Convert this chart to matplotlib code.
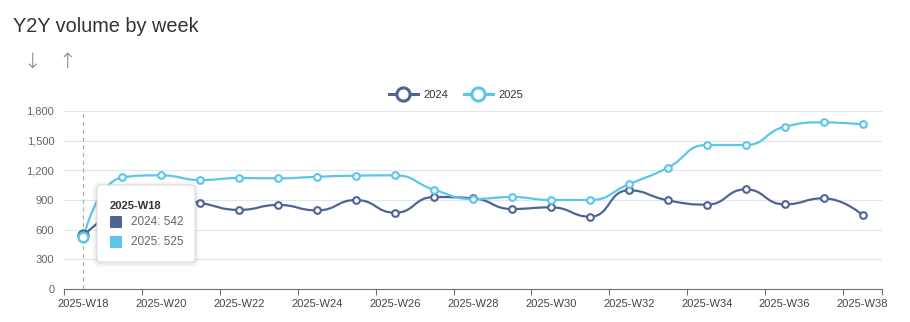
import numpy as np
import matplotlib
matplotlib.use("Agg")
import matplotlib.pyplot as plt
from matplotlib.path import Path
from matplotlib.patches import PathPatch, FancyBboxPatch
from matplotlib.lines import Line2D
from matplotlib.ticker import FuncFormatter

plt.rcParams["font.family"] = ["Liberation Sans", "DejaVu Sans"]

weeks = ["2025-W18", "2025-W19", "2025-W20", "2025-W21", "2025-W22", "2025-W23", "2025-W24",
         "2025-W25", "2025-W26", "2025-W27", "2025-W28", "2025-W29", "2025-W30", "2025-W31",
         "2025-W32", "2025-W33", "2025-W34", "2025-W35", "2025-W36", "2025-W37", "2025-W38"]
vol_2024 = [542, 830, 930, 870, 800, 850, 795, 900, 771, 930, 917, 809, 826, 731,
            998, 897, 853, 1008, 856, 917, 748]
vol_2025 = [525, 1129, 1149, 1102, 1122, 1119, 1135, 1146, 1149, 1004, 910, 930, 900, 900,
            1060, 1226, 1456, 1456, 1641, 1685, 1665]
series_names = ["2024", "2025"]
colors = ["#4e6593", "#5bc6ea"]
hover = 0  # week under the tooltip

W, H = 910, 322
PX_X = 38.9           # px per week
PX_Y = 178 / 1800     # px per unit


def clamp(v, a, b):
    return min(max(v, min(a, b)), max(a, b))


def smooth_path(xs, ys, smooth=0.5):
    # echarts-style bezier smoothing with control points kept in range
    pts = np.column_stack([np.asarray(xs, float) * PX_X, np.asarray(ys, float) * PX_Y])
    n = len(pts)
    verts = [pts[0]]
    codes = [Path.MOVETO]
    cp_out = pts[0].copy()
    for i in range(1, n):
        p, prev = pts[i], pts[i - 1]
        if i < n - 1:
            nxt = pts[i + 1]
            v = nxt - prev
            l0 = np.hypot(*(p - prev))
            l1 = np.hypot(*(nxt - p))
            r = l1 / (l0 + l1)
            nc = p + v * smooth * r
            nc = np.array([clamp(nc[0], nxt[0], p[0]), clamp(nc[1], nxt[1], p[1])])
            v = nc - p
            ci = p - v * l0 / l1
            ci = np.array([clamp(ci[0], prev[0], p[0]), clamp(ci[1], prev[1], p[1])])
            v = p - ci
            nc = p + v * l1 / l0
        else:
            ci, nc = p, p
        verts += [cp_out, ci, p]
        codes += [Path.CURVE4] * 3
        cp_out = nc
    return Path(np.array(verts) / [PX_X, PX_Y], codes)


fig = plt.figure(figsize=(W / 100, H / 100), dpi=100)
ax = fig.add_axes([64 / W, 33 / H, 818 / W, 178 / H])

x = np.arange(len(weeks))
for vals, c in zip([vol_2024, vol_2025], colors):
    ax.add_patch(PathPatch(smooth_path(x, vals), facecolor="none", edgecolor=c, lw=1.6, zorder=3))
    ax.plot(x, vals, "o", ms=4.8, mfc="white", mec=c, mew=1.5, zorder=4, clip_on=False)
    ax.plot(x[hover], vals[hover], "o", ms=7, mfc="white", mec=c, mew=1.8, zorder=5, clip_on=False)

ax.axvline(hover, color="#aaaaaa", ls=(0, (4, 3)), lw=0.8, zorder=2)

ax.set_xlim(-0.5, len(weeks) - 0.5)
ax.set_ylim(0, 1800)
ax.set_yticks(np.arange(0, 1801, 300))
ax.yaxis.set_major_formatter(FuncFormatter(lambda v, _: f"{int(v):,}"))
ax.grid(axis="y", color="#e0e6f1", lw=0.8)
ax.set_axisbelow(True)
for s in ["top", "right", "left"]:
    ax.spines[s].set_visible(False)
ax.spines["bottom"].set_color("#6e7079")
ax.tick_params(axis="y", length=0, pad=7, labelsize=8, labelcolor="#666666")

bounds = list(np.arange(-0.5, len(weeks) - 0.5, 2)) + [len(weeks) - 0.5]
ax.set_xticks(bounds)
ax.set_xticklabels([])
ax.tick_params(axis="x", which="major", length=4, color="#6e7079", width=0.8)
ax.set_xticks(x[::2], minor=True)
ax.set_xticklabels(weeks[::2], minor=True)
ax.tick_params(axis="x", which="minor", length=0, pad=7, labelsize=8, labelcolor="#444444")

handles = [Line2D([], [], color=c, lw=2.2, marker="o", ms=9.5, mfc="white", mew=2.2)
           for c in colors]
fig.legend(handles, series_names, loc="center", bbox_to_anchor=(456 / W, 1 - 95 / H),
           ncol=2, frameon=False, fontsize=8, handlelength=2.6, columnspacing=1.4,
           handletextpad=0.5, labelcolor="#333333")

fig.text(13 / W, 1 - 27 / H, "Y2Y volume by week", fontsize=14.3, color="#333333", va="center")
fig.text(32 / W, 1 - 62 / H, "↓", fontsize=15, color="#808080", ha="center", va="center",
         family="DejaVu Sans", fontweight="light")
fig.text(67 / W, 1 - 62 / H, "↑", fontsize=15, color="#808080", ha="center", va="center",
         family="DejaVu Sans", fontweight="light")

# tooltip (coordinates in inches = px / 100)
tr = fig.dpi_scale_trans
for k, a in enumerate([0.04, 0.03, 0.02]):
    g = 0.015 * (k + 1)
    fig.add_artist(FancyBboxPatch((0.97 - g, 0.59 - g), 0.98 + 2 * g, 0.77 + 2 * g,
                                  boxstyle="round,pad=0,rounding_size=0.06", transform=tr,
                                  facecolor="black", edgecolor="none", alpha=a, zorder=9))
fig.add_artist(FancyBboxPatch((0.97, 0.60), 0.98, 0.77, boxstyle="round,pad=0,rounding_size=0.04",
                              transform=tr, facecolor="white", edgecolor="#dddddd", lw=0.8, zorder=10))
fig.text(1.10, 1.16, weeks[hover], transform=tr, fontsize=8, fontweight="bold",
         color="#333333", va="center", zorder=11)
for k, (name, vals, c) in enumerate(zip(series_names, [vol_2024, vol_2025], colors)):
    yc = 1.00 - k * 0.20
    fig.add_artist(FancyBboxPatch((1.10, yc - 0.06), 0.12, 0.12, boxstyle="round,pad=0,rounding_size=0.01",
                                  transform=tr, facecolor=c, edgecolor="none", zorder=11))
    fig.text(1.31, yc, f"{name}: {vals[hover]}", transform=tr, fontsize=8.5,
             color="#666666", va="center", zorder=11)

fig.savefig("out.png", dpi=100)
